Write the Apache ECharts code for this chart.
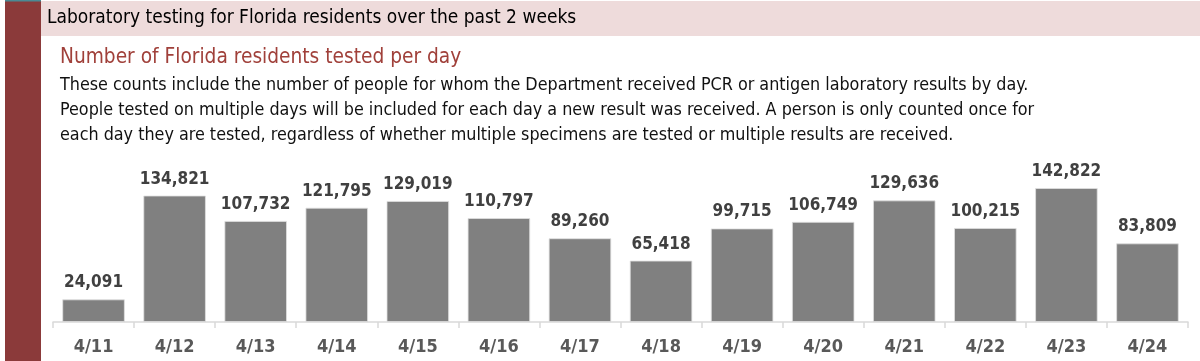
<!DOCTYPE html>
<html><head><meta charset="utf-8">
<script src="https://cdn.jsdelivr.net/npm/echarts@6/dist/echarts.min.js"></script>
<style>html,body{margin:0;padding:0;background:#fff}#c{width:1200px;height:361px}</style>
</head><body><div id="c"></div>
<script>
const categories = ['4/11','4/12','4/13','4/14','4/15','4/16','4/17','4/18','4/19','4/20','4/21','4/22','4/23','4/24'];
const tested = [24091,134821,107732,121795,129019,110797,89260,65418,99715,106749,129636,100215,142822,83809];
const headerText = 'Laboratory testing for Florida residents over the past 2 weeks';
const subtitleText = 'Number of Florida residents tested per day';
const descLines = [
  'These counts include the number of people for whom the Department received PCR or antigen laboratory results by day.',
  'People tested on multiple days will be included for each day a new result was received. A person is only counted once for',
  'each day they are tested, regardless of whether multiple specimens are tested or multiple results are received.'
];
const FONT = '"Liberation Sans Narrow", "DejaVu Sans Condensed", "Liberation Sans", sans-serif';
const chart = echarts.init(document.getElementById('c'), null, {renderer:'canvas'});
chart.setOption({
  animation:false,
  backgroundColor:'#fff',
  graphic:[
    {type:'rect', shape:{x:41,y:1,width:1159,height:35}, style:{fill:'#eedbdb'}},
    {type:'rect', shape:{x:5,y:0,width:36,height:361}, style:{fill:'#8b3a3a'}},
    {type:'rect', shape:{x:5,y:0,width:36,height:1.5}, style:{fill:'#4a8a94'}},
    {type:'text', left:47, top:9, style:{text:headerText, font:'19px '+FONT, fill:'#000'}},
    {type:'text', left:60, top:47, style:{text:subtitleText, font:'20.7px '+FONT, fill:'#a0403a'}},
    {type:'text', left:60, top:73, style:{text:descLines.join('\n'), font:'17.8px '+FONT, fill:'#111', lineHeight:25}}
  ],
  grid:{left:53, right:12, top:172, bottom:39, containLabel:false},
  xAxis:{type:'category', data:categories,
    axisLine:{lineStyle:{color:'#d9d9d9', width:1.5}},
    axisTick:{show:true, length:6, lineStyle:{color:'#d9d9d9', width:1.5}},
    axisLabel:{color:'#595959', fontSize:18, fontWeight:'bold', fontFamily:FONT, margin:16}
  },
  yAxis:{type:'value', min:0, max:160000, show:false, splitLine:{show:false}},
  series:[{type:'bar', data:tested, barCategoryGap:'23%',
    itemStyle:{color:'#808080', borderColor:'#e0e0e0', borderWidth:0.8},
    label:{show:true, position:'top', distance:8, color:'#404040', fontSize:17, fontWeight:'bold', fontFamily:FONT,
      formatter:p=>p.value.toLocaleString('en-US')}
  }]
});
</script></body></html>
